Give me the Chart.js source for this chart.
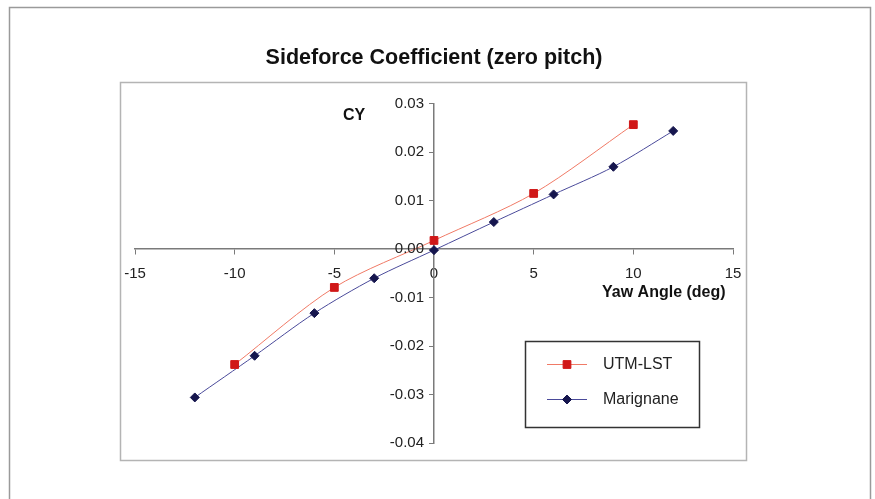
<!DOCTYPE html>
<html>
<head>
<meta charset="utf-8">
<script src="https://cdn.jsdelivr.net/npm/chart.js@4.4.0/dist/chart.umd.min.js"></script>
<style>
    html, body { margin: 0; padding: 0; background: #fff; }
    canvas { display: block; }
</style>
</head>
<body>
<canvas id="sideforce" width="875" height="499"></canvas>
<script>
    /* ---- Data ---- */
    var seriesNames = ['UTM-LST', 'Marignane'];
    var utmYaw = [-10, -5, 0, 5, 10];
    var utmCY = [-0.0238, -0.0079, 0.0018, 0.0115, 0.0257];
    var marYaw = [-12, -9, -6, -3, 0, 3, 6, 9, 12];
    var marCY = [-0.0306, -0.0220, -0.0132, -0.0060, -0.0002, 0.0056, 0.0113, 0.0170, 0.0244];
    var xRange = [-15, 15], xStep = 5;
    var yRange = [-0.04, 0.03], yStep = 0.01;

    var FONT = '"Liberation Sans", Arial, sans-serif';
    var AXIS = '#7a7a7a';
    var TICK_TEXT = '#222';

    function toPoints(xs, ys) {
        return xs.map(function(x, i) { return { x: x, y: ys[i] }; });
    }

    /* ---- Frames, y tick labels, axis titles and the boxed legend ---- */
    var decorPlugin = {
        id: 'decor',
        beforeDraw: function(chart) {
            var ctx = chart.ctx;
            ctx.save();
            ctx.strokeStyle = '#9a9a9a';
            ctx.lineWidth = 1.5;
            ctx.strokeRect(9.5, 7.5, 861, 495);
            ctx.strokeStyle = '#b4b4b4';
            ctx.strokeRect(120.5, 82.5, 626, 378);
            ctx.restore();
        },
        afterDraw: function(chart) {
            var ctx = chart.ctx;
            var xs = chart.scales.x, ys = chart.scales.y;
            ctx.save();

            // y tick labels sit left of the centred axis
            ctx.fillStyle = TICK_TEXT;
            ctx.font = '15px ' + FONT;
            ctx.textAlign = 'right';
            ctx.textBaseline = 'middle';
            var axisX = xs.getPixelForValue(0);
            ys.ticks.forEach(function(t) {
                ctx.fillText(t.value.toFixed(2), axisX - 10, ys.getPixelForValue(t.value));
            });

            ctx.fillStyle = '#111';
            ctx.font = 'bold 16px ' + FONT;
            ctx.textAlign = 'center';
            ctx.fillText('CY', 354, 116);
            ctx.textAlign = 'left';
            ctx.fillText('Yaw Angle (deg)', 602, 293);

            // legend box
            ctx.strokeStyle = '#333';
            ctx.lineWidth = 1.5;
            ctx.strokeRect(525.5, 341.5, 174, 86);
            chart.data.datasets.forEach(function(ds, i) {
                var y = 364 + i * 35;
                ctx.strokeStyle = ds.borderColor;
                ctx.lineWidth = 1;
                ctx.beginPath(); ctx.moveTo(547, y + 0.5); ctx.lineTo(587, y + 0.5); ctx.stroke();
                ctx.fillStyle = ds.pointBackgroundColor;
                ctx.strokeStyle = ds.pointBorderColor;
                Chart.helpers.drawPoint(ctx, {
                    pointStyle: ds.pointStyle, radius: ds.pointRadius, borderWidth: 1
                }, 567, y + 0.5);
                ctx.fillStyle = '#222';
                ctx.font = '16px ' + FONT;
                ctx.textAlign = 'left';
                ctx.fillText(ds.label, 603, y + 1);
            });
            ctx.restore();
        }
    };

    /* ---- Chart ---- */
    var ctx = document.getElementById('sideforce').getContext('2d');
    var chart = new Chart(ctx, {
        type: 'scatter',
        data: {
            datasets: [{
                label: seriesNames[0],
                data: toPoints(utmYaw, utmCY),
                showLine: true, tension: 0.3,
                borderColor: '#f07a66', borderWidth: 1,
                pointStyle: 'rect', pointRadius: 5.5,
                pointBackgroundColor: '#d01818', pointBorderColor: '#d01818'
            }, {
                label: seriesNames[1],
                data: toPoints(marYaw, marCY),
                showLine: true, tension: 0.3,
                borderColor: '#4a4a9a', borderWidth: 1,
                pointStyle: 'rectRot', pointRadius: 4.5,
                pointBackgroundColor: '#16164e', pointBorderColor: '#16164e'
            }]
        },
        options: {
            responsive: false, animation: false,
            layout: { padding: { left: 135, right: 142, top: 40, bottom: 56 } },
            plugins: {
                legend: { display: false },
                tooltip: { enabled: false },
                title: {
                    display: true, text: 'Sideforce Coefficient (zero pitch)', color: '#111',
                    font: { family: FONT, size: 21.5, weight: 'bold', lineHeight: 1.2 },
                    padding: { top: 5, bottom: 33 }
                }
            },
            scales: {
                x: {
                    type: 'linear', min: xRange[0], max: xRange[1],
                    position: { y: 0 },
                    afterFit: function(s) { s.height = 0; },
                    ticks: { stepSize: xStep, color: TICK_TEXT, padding: 11, font: { family: FONT, size: 15 }, maxRotation: 0 },
                    grid: { drawOnChartArea: false, drawTicks: true, tickLength: 5, color: AXIS },
                    border: { color: AXIS, width: 1.5 }
                },
                y: {
                    type: 'linear', min: yRange[0], max: yRange[1],
                    position: { x: 0 },
                    afterFit: function(s) { s.width = 0; },
                    ticks: { stepSize: yStep, display: false },
                    grid: { drawOnChartArea: false, drawTicks: true, tickLength: 4, color: AXIS },
                    border: { color: AXIS, width: 1.5 }
                }
            }
        },
        plugins: [decorPlugin]
    });
</script>
</body>
</html>
